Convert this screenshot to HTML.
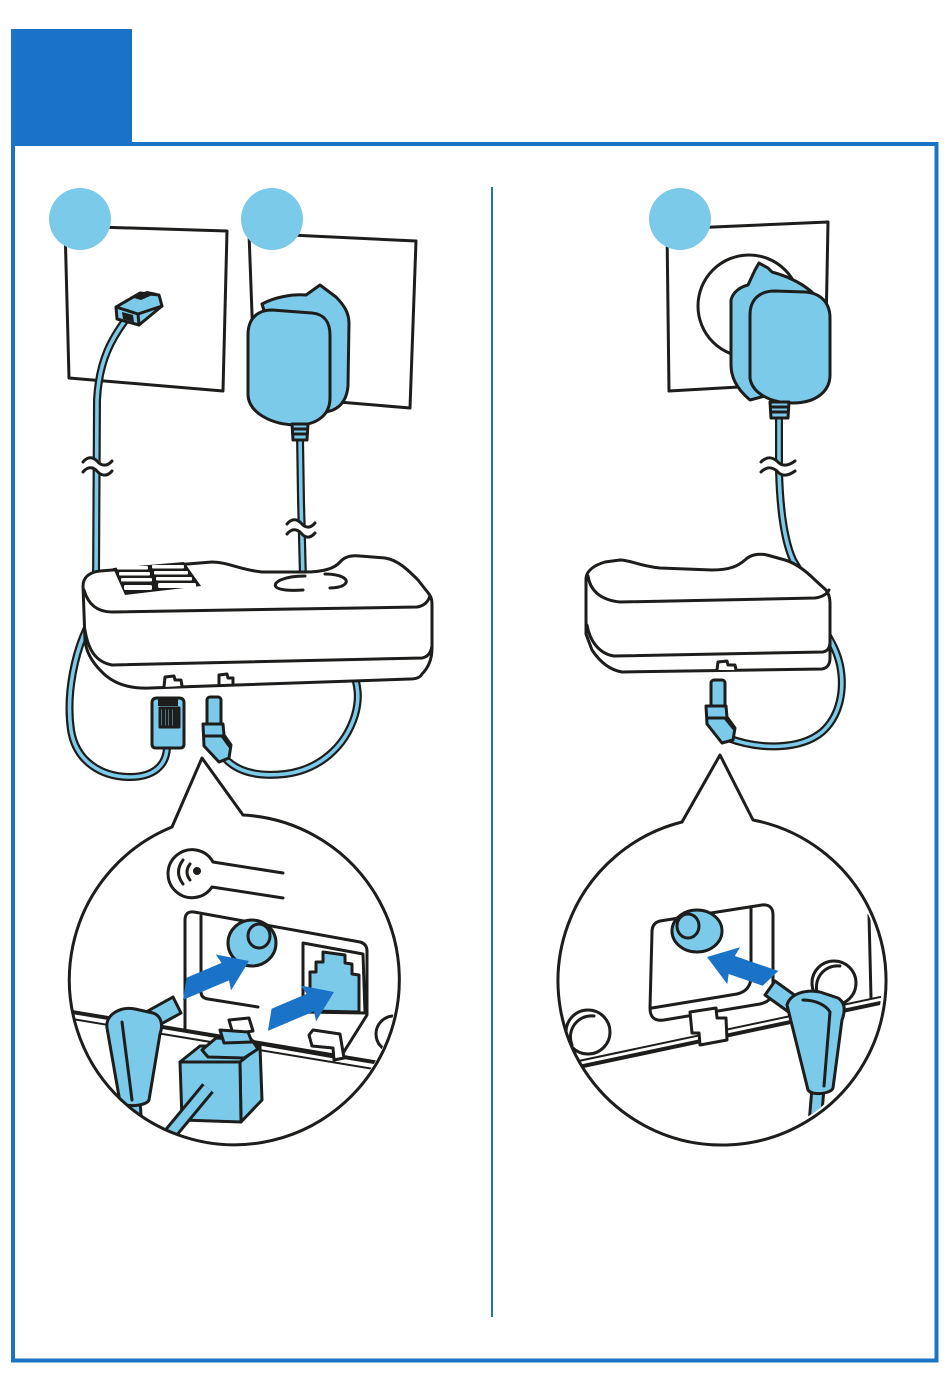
<!DOCTYPE html>
<html><head><meta charset="utf-8">
<style>
html,body{margin:0;padding:0;background:#fff}
svg{display:block}
.o{stroke:#1d1d1b;stroke-width:3;stroke-linejoin:round;stroke-linecap:round}
.b{fill:#7ccaea}
.w{fill:#fff}
.n{fill:none}
.k{fill:#1d1d1b}
.cb{fill:none;stroke:#1d1d1b;stroke-width:8}
.cf{fill:none;stroke:#7ccaea;stroke-width:3.6}
.cb2{fill:none;stroke:#1d1d1b;stroke-width:15}
.cf2{fill:none;stroke:#7ccaea;stroke-width:9}
.ar{fill:#1a73c6}
</style></head>
<body>
<svg width="950" height="1392" viewBox="0 0 950 1392" xmlns="http://www.w3.org/2000/svg">
<defs>
<clipPath id="c1"><circle cx="233" cy="980" r="164"/></clipPath>
<clipPath id="c2"><circle cx="719" cy="980" r="163"/></clipPath>
</defs>
<rect width="950" height="1392" fill="#fff"/>

<!-- frame -->
<rect x="11" y="29" width="121" height="115" fill="#1a73c6"/>
<path d="M13 144 V1360.5 H936.5 V144 H11" fill="none" stroke="#1a73c6" stroke-width="4"/>
<line x1="492" y1="187" x2="492" y2="1317" stroke="#1a73c6" stroke-width="2"/>

<!-- ============ LEFT PANEL ============ -->
<path class="o w" stroke-width="3.5" d="M65 226 L227 231 L223 391 L69 378 Z"/>
<circle cx="80" cy="219" r="31" fill="#7ccaea"/>
<path class="o w" stroke-width="3.5" d="M249 233 L416 241 L410 408 L255 395 Z"/>
<circle cx="272" cy="219" r="31" fill="#7ccaea"/>

<!-- phone cable (top) -->
<path class="cb" d="M127 318 C112 338 99 360 97 400 L96 580"/>
<path class="cf" d="M127 318 C112 338 99 360 97 400 L96 580"/>
<path d="M84 467 C90 460 95 461 98 466 C101 471 107 472 112 466" stroke="#fff" stroke-width="8" fill="none"/>
<path class="o n" stroke-width="2.5" d="M83 462 C88 456 93 457 97 461 C101 466 107 467 112 461"/>
<path class="o n" stroke-width="2.5" d="M83 472 C88 466 93 467 97 471 C101 476 107 477 112 471"/>

<!-- RJ plug on wall -->
<path class="o b" stroke-width="2.5" d="M116 307 L140 293 L159 295 L162 306 L139 325 L117 319 Z"/>
<path class="o n" stroke-width="2.5" d="M116 307 L138 314 L139 325 M138 314 L162 306"/>
<path class="k" d="M130 297 L147 291 L157 293 L141 300 Z"/>
<path class="k" d="M122 312 L133 315 L134 322 L123 319 Z"/>

<!-- adapter cable -->
<path class="cb" d="M300 436 L301 500 L303 578"/>
<path class="cf" d="M300 436 L301 500 L303 578"/>
<path d="M288 529 C293 522 298 523 301 528 C304 533 309 534 315 528" stroke="#fff" stroke-width="8" fill="none"/>
<path class="o n" stroke-width="2.5" d="M287 524 C292 518 297 519 301 523 C305 528 310 529 315 523"/>
<path class="o n" stroke-width="2.5" d="M287 534 C292 528 297 529 301 533 C305 538 310 539 315 533"/>

<!-- UK adapter -->
<path class="o b" d="M262 304 C275 297 292 294 306 295 L320 285 L336 297 C344 305 349 313 349 323 L348 386 C347 398 342 406 333 410 L298 421 Z"/>
<path class="o b" d="M248 335 C248 318 258 310 272 310 L312 313 C324 314 330 322 330 335 L330 398 C330 415 317 425 297 425 C272 425 249 413 248 395 Z"/>
<path class="o b" stroke-width="2.5" d="M292 424 L308 424 L307 440 L293 440 Z"/>
<path class="o n" stroke-width="2" d="M293 429 L307 429 M293 434 L307 434"/>

<!-- cables below base -->
<path class="cb" d="M92 618 C74 650 66 695 71 730 C76 762 102 777 130 777 C153 777 166 766 167 748"/>
<path class="cf" d="M92 618 C74 650 66 695 71 730 C76 762 102 777 130 777 C153 777 166 766 167 748"/>
<path class="cb" d="M223 756 C236 772 258 777 285 774 C318 770 345 748 355 715 C360 698 358 685 352 668"/>
<path class="cf" d="M223 756 C236 772 258 777 285 774 C318 770 345 748 355 715 C360 698 358 685 352 668"/>

<!-- base unit left -->
<path class="o w" d="M83 586 C83 577 90 572 100 571 L212 562 C228 562 240 570 262 572 L305 572 C325 572 335 568 340 562 C345 556 352 555 360 556 L385 558 C398 560 408 570 418 580 L429 594 C432 598 432 602 432 606 L432 648 C432 660 428 668 422 674 C420 678 415 679 410 679 L150 688 C128 689 112 683 101 671 C92 662 86 652 85 640 Z"/>
<path class="o n" d="M84 590 C88 604 97 612 112 612 L417 607 C424 606 428 602 430 596"/>
<path class="o n" d="M85 630 C88 650 96 662 112 665 L422 658 C428 657 431 652 432 646"/>
<path class="o w" stroke-width="2.5" d="M164 687 L165 677 L174 676 L175 680 L181 680 L182 686"/>
<path class="o w" stroke-width="2.5" d="M219 684 L219 675 L227 674 L228 678 L233 678 L233 683"/>
<!-- keypad -->
<path class="k" d="M113 568 L184 562 L201 586 L125 595 Z"/>
<g fill="#fff">
<rect x="117" y="566" width="31" height="3.5" rx="1"/><rect x="152" y="565" width="32" height="3.5" rx="1"/>
<rect x="119" y="572" width="31" height="3.5" rx="1"/><rect x="154" y="571" width="34" height="3.5" rx="1"/>
<rect x="121" y="578" width="31" height="3.5" rx="1"/><rect x="156" y="577" width="36" height="3.5" rx="1"/>
<rect x="124" y="585" width="28" height="5" rx="1.5"/><rect x="158" y="583" width="38" height="5" rx="1.5"/>
</g>
<!-- charge arcs -->
<path class="o n" d="M305 576 C285 576 272 582 276 587 C279 590 290 591 303 590"/>
<path class="o n" d="M325 574 C340 574 350 579 345 584 C342 587 335 588 330 588"/>

<!-- RJ plug (left) -->
<path class="o b" d="M152 703 Q152 698 157 698 L179 698 Q184 698 184 703 L184 744 Q184 748 180 748 L156 748 Q152 748 152 744 Z"/>
<rect x="158" y="698" width="20" height="8" class="k"/>
<rect x="160" y="708" width="19" height="19" class="o b" stroke-width="2"/>
<path class="o n" stroke-width="1.6" d="M163.5 710 V725 M167 710 V725 M170.5 710 V725 M174 710 V725 M177 710 V725"/>
<!-- DC plug (left) -->
<rect x="207" y="697" width="14" height="29" rx="3" class="o b" stroke-width="2.5"/>
<path class="o b" stroke-width="2.5" d="M203 724 L223 724 L224 735 L231 745 L229 758 L219 762 L204 746 Z"/>
<path class="o n" stroke-width="2" d="M204 736 L222 736 L230 747"/>

<!-- callout 1 -->
<path d="M243 815 A165 165 0 1 1 172 827 L202 758 Z" fill="#fff"/>
<g clip-path="url(#c1)">
  <path class="o n" stroke-width="2.5" d="M283 873 L213 862 A24 24 0 1 0 212 887 L283 898"/>
  <path class="o n" stroke-width="2.5" d="M183 860 Q174 872 183 884 M190 864 Q184 872 190 880"/>
  <circle cx="197" cy="871" r="4" class="k"/>
  <!-- panel -->
  <path class="o w" d="M185 1031 L185 920 Q185 911 194 912 L360 942 Q367 944 367 951 L367 1015 L340 1058 Z"/>
  <path class="o n" stroke-width="2.5" d="M201 916 L201 992 Q201 998 208 999 L258 1007"/>
  <!-- base lines -->
  <path d="M60 1010 L410 1068" stroke="#1d1d1b" stroke-width="4" fill="none"/>
  <path d="M60 1017 L410 1075" stroke="#1d1d1b" stroke-width="2" fill="none"/>
  <circle cx="394" cy="1034" r="18" class="o w" stroke-width="2.5"/>
  <!-- DC jack -->
  <ellipse cx="252" cy="943" rx="24" ry="23" class="o b"/>
  <ellipse cx="259" cy="936" rx="11" ry="12" class="o n" stroke-width="2.5"/>
  <!-- RJ jack -->
  <path class="o w" stroke-width="2.5" d="M303 943 L363 954 L365 1013 L303 1012 Z"/>
  <path class="o b" stroke-width="2" d="M310 1011 L310 972 L316 972 L316 962 L323 962 L323 952 L345 955 L345 963 L352 964 L352 974 L359 975 L359 1012 Z"/>
  <!-- arrows -->
  <polygon class="ar" points="0,0 -28,-19 -26,-9 -64,-9 -76,10 -26,10 -28,20" transform="translate(249 961) rotate(-23)"/>
  <polygon class="ar" points="0,0 -28,-19 -26,-9 -64,-9 -76,10 -26,10 -28,20" transform="translate(334 992) rotate(-23)"/>
  <!-- tabs -->
  <path class="o w" stroke-width="2.5" d="M229 1020 L249 1018 L253 1031 L233 1034 Z"/>
  <path class="o w" stroke-width="2.5" d="M309 1035 L313 1030 L340 1034 L344 1058 L334 1060 L333 1048 L312 1046 Z"/>
  <!-- DC plug -->
  <path class="cb2" d="M134 1100 L138 1160"/>
  <path class="cf2" d="M134 1100 L138 1160"/>
  <path class="o b" d="M154 1028 L181 1013 L173 997 L146 1012 Z"/>
  <path class="o b" d="M107 1028 C105 1015 120 1006 135 1009 L153 1013 C162 1016 163 1026 160 1034 L149 1100 C147 1106 124 1108 120 1102 Z"/>
  <path class="o n" stroke-width="2.5" d="M122 1022 L132 1100"/>
  <!-- RJ plug -->
  <path class="o b" d="M240 1062 L260 1046 L262 1100 L241 1122 Z"/>
  <path class="o b" d="M180 1062 L240 1062 L241 1122 L182 1120 Z"/>
  <path class="o b" d="M180 1062 L200 1046 L260 1046 L240 1062 Z"/>
  <path class="o b" stroke-width="2.5" d="M202 1050 L216 1038 L252 1040 L258 1049 L244 1058 L208 1057 Z"/>
  <path class="o b" stroke-width="2.5" d="M220 1030 L248 1032 L252 1042 L224 1043 Z"/>
  <path class="cb2" d="M208 1088 L150 1158"/>
  <path class="cf2" d="M208 1088 L150 1158"/>
</g>
<path class="o n" d="M243 815 A165 165 0 1 1 172 827 L202 758 Z"/>

<!-- ============ RIGHT PANEL ============ -->
<path class="o w" stroke-width="3.5" d="M667 229 L828 222 L825 382 L669 391 Z"/>
<circle cx="680" cy="219" r="31" fill="#7ccaea"/>
<circle cx="749" cy="306" r="51" class="o w" stroke-width="2.5"/>

<path class="cb" d="M779 416 L779 470 C780 510 784 540 793 560 L808 585"/>
<path class="cf" d="M779 416 L779 470 C780 510 784 540 793 560 L808 585"/>
<path d="M762 467 C768 460 773 461 777 466 C781 471 787 472 795 466" stroke="#fff" stroke-width="8" fill="none"/>
<path class="o n" stroke-width="2.5" d="M761 462 C767 456 772 457 777 461 C781 466 787 467 795 461"/>
<path class="o n" stroke-width="2.5" d="M761 472 C767 466 772 467 777 471 C781 476 787 477 795 471"/>

<!-- EU adapter -->
<path class="o b" d="M731 300 C733 292 740 287 748 285 L755 270 L759 263 L768 268 L772 272 C790 277 805 285 815 295 L826 305 L826 380 L750 400 C738 390 731 378 731 365 Z"/>
<path class="o b" d="M750 315 C750 299 760 291 775 291 L805 292 C821 293 830 303 830 318 L830 375 C830 392 815 403 793 403 C770 403 752 393 750 378 Z"/>
<path class="o b" stroke-width="2.5" d="M770 402 L789 402 L788 418 L771 418 Z"/>
<path class="o n" stroke-width="2" d="M771 407 L788 407 M771 412 L788 412"/>

<path class="cb" d="M728 738 C760 750 800 750 822 732 C840 716 845 690 840 665 C837 652 833 645 828 636"/>
<path class="cf" d="M728 738 C760 750 800 750 822 732 C840 716 845 690 840 665 C837 652 833 645 828 636"/>

<!-- base unit right -->
<path class="o w" d="M586 578 C587 570 595 565 605 562 L620 560 C630 560 640 566 660 568 L712 570 C730 570 738 566 745 560 C750 555 758 553 767 555 L785 560 C795 563 805 570 815 580 L826 590 C829 594 830 598 830 603 L830 658 C830 665 827 668 822 669 L622 672 C610 670 600 662 592 650 L586 634 Z"/>
<path class="o n" d="M588 576 C590 590 600 600 620 602 L815 598 C822 597 827 594 829 590"/>
<path class="o n" d="M587 625 C590 642 600 654 614 656 L823 652 C828 651 830 647 830 642"/>
<path class="o w" stroke-width="2.5" d="M717 670 L718 662 L727 661 L728 665 L735 665 L736 670"/>

<rect x="711" y="680" width="14" height="28" rx="3" class="o b" stroke-width="2.5"/>
<path class="o b" stroke-width="2.5" d="M706 706 L726 706 L727 717 L735 728 L733 740 L722 743 L707 724 Z"/>
<path class="o n" stroke-width="2" d="M707 718 L725 718 L734 729"/>

<!-- callout 2 -->
<path d="M753 820 A164 164 0 1 1 682 822 L720 755 Z" fill="#fff"/>
<g clip-path="url(#c2)">
  <path d="M555 1072 L885 1002" stroke="#1d1d1b" stroke-width="4" fill="none"/>
  <path d="M555 1066 L885 996" stroke="#1d1d1b" stroke-width="2" fill="none"/>
  <path class="o n" stroke-width="3" d="M869 915 L871 998"/>
  <circle cx="588" cy="1032" r="22" class="o w"/>
  <path class="o n" stroke-width="2.5" d="M572 1045 C566 1030 578 1014 594 1016"/>
  <circle cx="834" cy="983" r="22" class="o w"/>
  <path class="o n" stroke-width="2.5" d="M818 995 C812 980 824 964 840 966"/>
  <path class="o w" d="M660 921 Q652 923 652 932 L650 1008 Q650 1022 664 1020 L760 1004 Q773 1001 773 990 L773 915 Q773 904 762 905 Z"/>
  <path class="o n" stroke-width="2.5" d="M652 1008 L737 994 Q750 991 751 978 L751 907"/>
  <ellipse cx="697" cy="931" rx="25" ry="21" class="o b"/>
  <ellipse cx="688" cy="926" rx="11" ry="12" class="o n" stroke-width="2.5"/>
  <path class="o w" stroke-width="2.5" d="M690 1012 L716 1008 L717 1018 L726 1018 L727 1040 L700 1045 L699 1033 L692 1033 Z"/>
  <polygon class="ar" points="0,0 -28,-19 -26,-9 -62,-9 -72,10 -26,10 -28,20" transform="translate(707 957) rotate(199)"/>
  <path class="cb2" d="M818 1088 L812 1160"/>
  <path class="cf2" d="M818 1088 L812 1160"/>
  <path class="o b" d="M800 999 L775 981 L765 995 L790 1013 Z"/>
  <path class="o b" d="M787 1005 C790 994 805 989 820 992 L838 998 C846 1003 845 1012 842 1020 L833 1088 C831 1094 812 1096 808 1090 Z"/>
  <path class="o n" stroke-width="2.5" d="M803 1000 C815 1000 826 1005 830 1012 L824 1086"/>
</g>
<path class="o n" d="M753 820 A164 164 0 1 1 682 822 L720 755 Z"/>

</svg>
</body></html>
